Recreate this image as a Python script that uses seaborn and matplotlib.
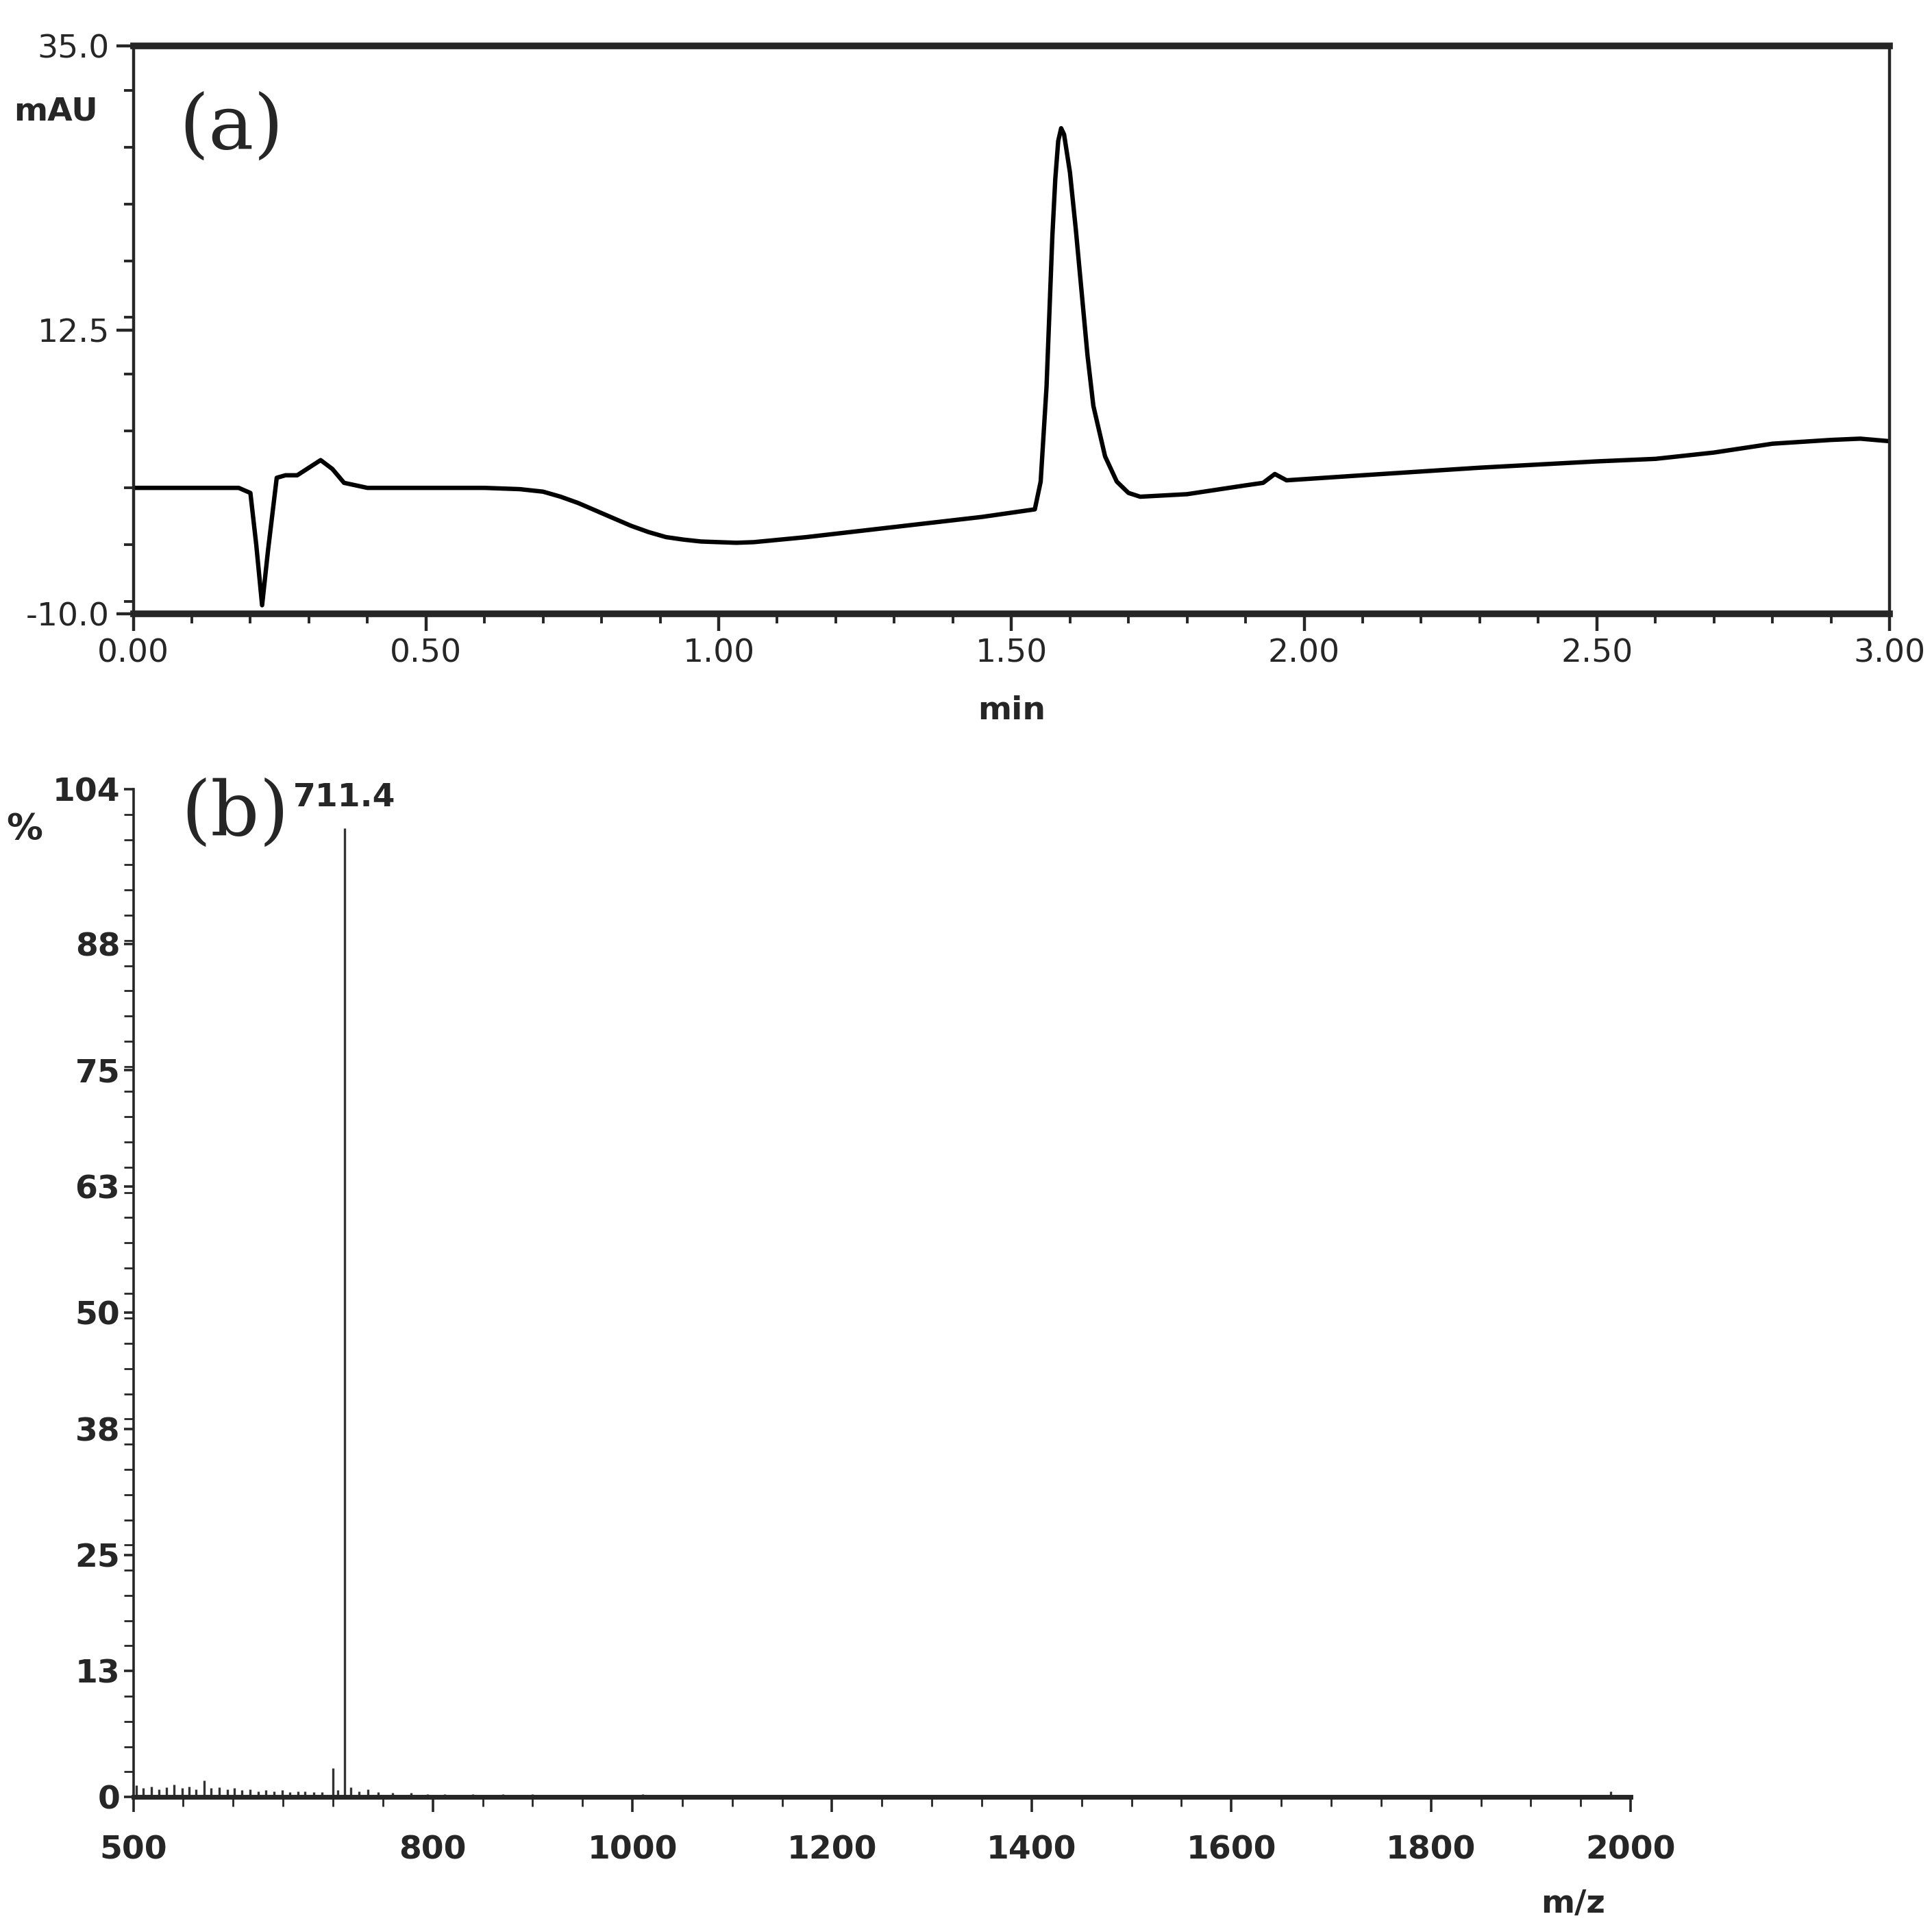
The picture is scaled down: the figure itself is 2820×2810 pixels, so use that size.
import matplotlib
matplotlib.use("Agg")
import matplotlib.pyplot as plt
from matplotlib.ticker import MultipleLocator, FixedLocator
import seaborn as sns
import numpy as np

# chromatogram (a), values
rt_min = [0.00, 0.10, 0.18, 0.20, 0.21, 0.22, 0.23, 0.245, 0.26, 0.28, 0.30, 0.32, 0.34, 0.36, 0.40,
          0.60, 0.66, 0.70, 0.73, 0.76, 0.79, 0.82, 0.85, 0.88, 0.91, 0.94, 0.97, 1.00, 1.03, 1.06,
          1.15, 1.30, 1.45, 1.54, 1.55, 1.56, 1.565, 1.57, 1.575,
          1.58, 1.585, 1.59, 1.60, 1.61, 1.62, 1.63, 1.64, 1.66, 1.68, 1.70, 1.72, 1.80, 1.90,
          1.93, 1.95, 1.97, 2.10, 2.30, 2.50, 2.60, 2.70, 2.80, 2.90, 2.95, 3.00]
mau = [0.0, 0.0, 0.0, -0.4, -4.5, -9.3, -5.0, 0.8, 1.0, 1.0, 1.6, 2.2, 1.5, 0.4, 0.0,
       0.0, -0.1, -0.3, -0.7, -1.2, -1.8, -2.4, -3.0, -3.5, -3.9, -4.1, -4.25, -4.3, -4.35, -4.3,
       -3.9, -3.1, -2.3, -1.7, 0.5, 8.0, 14.0, 20.0, 24.5,
       27.5, 28.5, 28.0, 25.0, 20.5, 15.5, 10.5, 6.5, 2.5, 0.5, -0.4, -0.7, -0.5, 0.2,
       0.4, 1.1, 0.6, 1.0, 1.6, 2.1, 2.3, 2.8, 3.5, 3.8, 3.9, 3.7]

# mass spectrum (b), stick heights in %
mz = [503, 510, 518, 526, 533, 541, 549, 556, 563, 571, 578, 586, 594, 601, 609, 617, 625,
      633, 641, 649, 657, 665, 672, 681, 689, 700, 705, 711.4, 718, 726, 735, 745, 760,
      778, 795, 812, 840, 870, 900, 930, 960, 990, 1010, 1045, 1090, 1120, 1140, 1300,
      1500, 1700, 1980]
intensity = [1.2, 0.9, 1.1, 0.8, 1.0, 1.3, 0.9, 1.1, 0.8, 1.7, 0.9, 1.0, 0.8, 0.9, 0.7,
             0.8, 0.6, 0.7, 0.6, 0.7, 0.5, 0.6, 0.6, 0.5, 0.5, 3.0, 0.7, 100.0, 1.0, 0.6, 0.8,
             0.5, 0.4, 0.4, 0.3, 0.3, 0.3, 0.3, 0.3, 0.25, 0.25, 0.2, 0.3, 0.2, 0.2, 0.2,
             0.15, 0.1, 0.1, 0.1, 0.6]

ms_ticks = [500, 800, 1000, 1200, 1400, 1600, 1800, 2000]
pct_ticks = [0, 13, 25, 38, 50, 63, 75, 88, 104]

sns.set_theme(style="ticks")
plt.rcParams["font.family"] = ["DejaVu Sans"]

fig = plt.figure(figsize=(14.1, 14.05), dpi=200)
ax1 = fig.add_axes([0.069, 0.681, 0.909, 0.295])
ax2 = fig.add_axes([0.069, 0.0665, 0.775, 0.5235])

sns.lineplot(x=rt_min, y=mau, ax=ax1, color="black", linewidth=2.3)
ax1.set_xlim(0, 3.0)
ax1.set_ylim(-10, 35)
ax1.set_xticks([0, 0.5, 1.0, 1.5, 2.0, 2.5, 3.0])
ax1.set_xticklabels(["0.00", "0.50", "1.00", "1.50", "2.00", "2.50", "3.00"])
ax1.xaxis.set_minor_locator(MultipleLocator(0.1))
ax1.set_yticks([-10, 12.5, 35])
ax1.set_yticklabels(["-10.0", "12.5", "35.0"])
ax1.yaxis.set_minor_locator(MultipleLocator(4.5))
ax1.tick_params(axis="both", which="major", labelsize=17, length=9, width=1.6)
ax1.tick_params(axis="both", which="minor", length=5, width=1.4)
for s in ax1.spines.values():
    s.set_linewidth(1.6)
ax1.spines["top"].set_linewidth(3.5)
ax1.spines["bottom"].set_linewidth(3.5)
ax1.set_xlabel("min", fontsize=17, fontweight="bold", labelpad=14)
ax1.set_ylabel("")
ax1.text(-0.068, 0.87, "mAU", transform=ax1.transAxes, fontsize=17, fontweight="bold")
ax1.text(0.026, 0.82, "(a)", transform=ax1.transAxes, fontsize=40, family="serif")

ax2.vlines(mz, 0, intensity, color="#333333", linewidth=1.2)
ax2.set_xlim(500, 2000)
ax2.set_ylim(0, 104)
ax2.xaxis.set_major_locator(FixedLocator(ms_ticks))
ax2.xaxis.set_minor_locator(MultipleLocator(50))
ax2.set_yticks(pct_ticks)
ax2.yaxis.set_minor_locator(MultipleLocator(104 / 40))
ax2.tick_params(axis="both", which="major", labelsize=17, length=8, width=1.3, pad=12)
ax2.tick_params(axis="y", which="major", pad=2, length=5)
ax2.tick_params(axis="both", which="minor", length=5, width=1.0)
for lab in ax2.get_xticklabels() + ax2.get_yticklabels():
    lab.set_fontweight("bold")
sns.despine(ax=ax2)
ax2.spines["left"].set_linewidth(1.3)
ax2.spines["bottom"].set_linewidth(2.5)
ax2.text(711.4, 101.5, "711.4", ha="center", va="bottom", fontsize=17, fontweight="bold")
ax2.text(-0.085, 0.95, "%", transform=ax2.transAxes, fontsize=19, fontweight="bold")
ax2.text(0.94, -0.115, "m/z", transform=ax2.transAxes, fontsize=17, fontweight="bold")
ax2.text(0.032, 0.955, "(b)", transform=ax2.transAxes, fontsize=40, family="serif")

fig.savefig("out.png", dpi=200, facecolor="white")
